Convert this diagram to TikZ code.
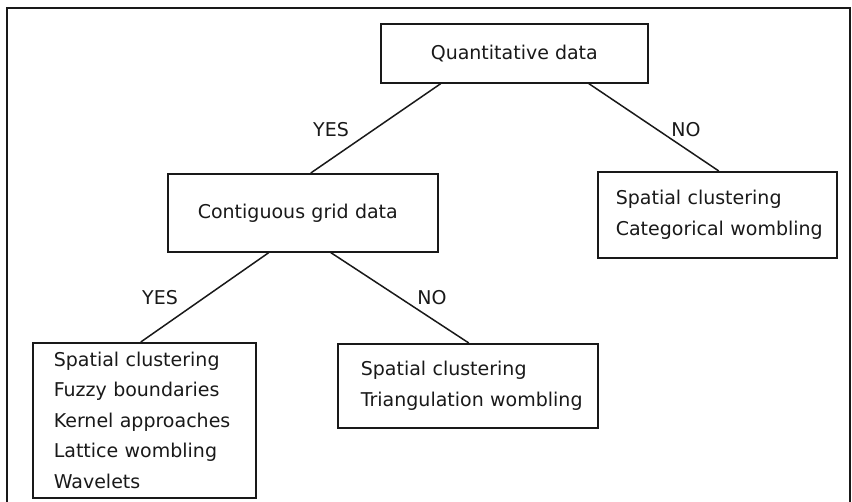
\documentclass[tikz,border=0pt]{standalone}
\usepackage{fontspec}
\setmainfont{DejaVu Sans}
\begin{document}
\begin{tikzpicture}[x=1pt,y=-1pt,
  every node/.style={font=\fontsize{19}{30.5}\selectfont, text=black!90},
  box/.style={draw=black!90, line width=1.6pt, anchor=north west, inner ysep=0pt, align=left},
  conn/.style={draw=black!90, line width=1.5pt},
  lbl/.style={inner sep=0pt}]
\useasboundingbox (0,0) rectangle (852,502);
\draw[line width=1.6pt, black!90] (7,503) -- (7,8) -- (850,8) -- (850,503);

\node[box, minimum width=267pt, minimum height=59pt, align=center] (q) at (380,23) {Quantitative data};
\node[box, text width=210pt, inner xsep=30pt, minimum height=78pt] (c) at (167,173) {\mbox{Contiguous grid data}};
\node[box, text width=203pt, inner xsep=18pt, minimum height=86pt] (r) at (597,171) {\mbox{Spatial clustering}\\\mbox{Categorical wombling}};
\node[box, text width=181pt, inner xsep=21pt, minimum height=155pt] (bl) at (32,342) {\mbox{Spatial clustering}\\\mbox{Fuzzy boundaries}\\\mbox{Kernel approaches}\\\mbox{Lattice wombling}\\\mbox{Wavelets}};
\node[box, text width=214pt, inner xsep=23pt, minimum height=84pt] (m) at (337,343) {\mbox{Spatial clustering}\\\mbox{Triangulation wombling}};

\draw[conn] ([xshift=-73.5pt]q.south) -- ([xshift=8pt]c.north);
\draw[conn] ([xshift=74.5pt]q.south) -- ([xshift=1.5pt]r.north);
\draw[conn] ([xshift=-34pt]c.south) -- ([xshift=-3.5pt]bl.north);
\draw[conn] ([xshift=28pt]c.south) -- ([xshift=1pt]m.north);

\node[lbl] (y1) at (331,130) {YES};
\node[lbl] (n1) at (686,130) {NO};
\node[lbl] (y2) at (160,298) {YES};
\node[lbl] (n2) at (432,298) {NO};
\end{tikzpicture}
\end{document}
